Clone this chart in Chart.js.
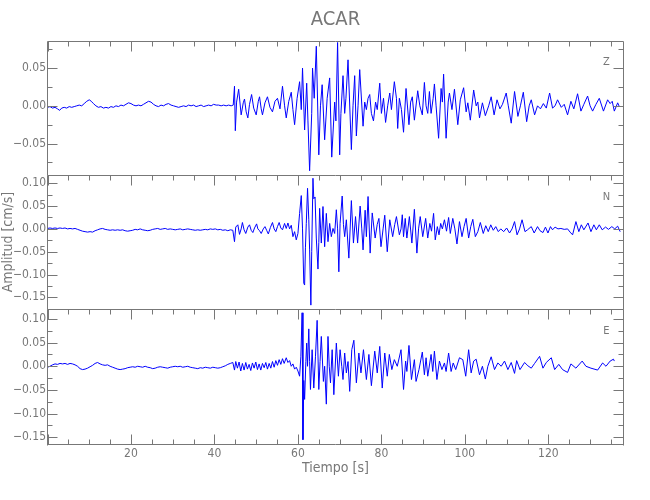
<!DOCTYPE html>
<html>
<head>
<meta charset="utf-8">
<title>ACAR</title>
<script src="https://cdn.jsdelivr.net/npm/chart.js@4/dist/chart.umd.min.js"></script>
<style>
  html, body { margin: 0; padding: 0; background: #fff; }
</style>
</head>
<body>
<canvas id="sismo" width="650" height="500"></canvas>
<script>
// componentes del registro (tiempo [s], amplitud [cm/s])
var componentes = ['Z', 'N', 'E'];

var serieZ = [
  [0,-0.002],[0.6,-0.001],[1.2,-0.003],[1.8,-0.002],[2.4,-0.004],[2.9,-0.006],[3.4,-0.003],[4,-0.002],[4.6,-0.003],[5.2,-0.001],
  [5.8,-0.002],[6.4,-0.001],[7,0.0],[7.6,0.001],[8.2,0.0],[8.8,0.003],[9.4,0.006],[10,0.008],[10.5,0.006],[11,0.003],
  [11.6,0.0],[12.2,-0.002],[12.8,-0.001],[13.4,-0.003],[14,-0.002],[14.6,-0.003],[15.2,-0.001],[15.8,-0.002],[16.4,0.0],[17,-0.001],
  [17.6,0.001],[18.2,0.0],[18.8,0.002],[19.4,0.004],[20,0.003],[20.6,0.001],[21.2,0.0],[21.8,0.001],[22.4,0.0],[23,0.002],
  [23.6,0.004],[24.2,0.006],[24.8,0.005],[25.4,0.002],[26,0.0],[26.6,-0.001],[27.2,0.001],[27.8,0.0],[28.4,0.002],[29,0.003],
  [29.6,0.001],[30.2,0.0],[30.8,-0.001],[31.4,-0.002],[32,-0.001],[32.6,0.0],[33.2,-0.001],[33.8,0.001],[34.4,0.0],[35,0.001],
  [35.6,-0.001],[36.2,0.0],[36.8,0.001],[37.4,-0.001],[38,0.0],[38.6,0.001],[39.2,0.0],[39.8,0.002],[40.4,0.001],[41,0.001],
  [41.6,0.0],[42.2,0.001],[42.8,0.0],[43.4,0.001],[44,0.0],[44.5,0.001],
  [44.8,0.026],[45.0,-0.033],[45.3,0.005],[45.8,0.022],[46.4,-0.012],[46.9,0.004],[47.2,0.009],[47.6,-0.008],[48.0,-0.016],[48.4,0.002],
  [48.9,0.015],[49.4,-0.003],[50.0,-0.012],[50.5,0.006],[50.8,0.012],[51.2,-0.004],[51.5,-0.012],[52.1,0.004],[52.7,0.012],[53.3,-0.002],
  [53.9,-0.008],[54.5,0.006],[55.1,0.010],[55.7,-0.004],[56.3,0.026],[56.8,0.0],[57.2,-0.016],[57.8,0.006],[58.4,0.018],[58.8,-0.005],
  [59.2,-0.025],[59.8,0.01],[60.4,0.032],[60.8,-0.005],[61.1,0.05],[61.6,-0.032],[62.1,0.03],[62.4,-0.02],[62.8,-0.086],[63.3,-0.01],
  [63.5,0.05],[63.9,0.01],[64.4,0.079],[65.0,-0.065],[65.4,0.0],[65.8,0.028],[66.4,-0.045],[67.0,0.01],[67.6,0.037],[68.1,-0.068],
  [68.8,0.005],[69.1,-0.02],[69.5,0.084],[70.0,-0.065],[70.3,-0.01],[70.8,0.04],[71.2,-0.01],[71.5,0.01],[72.0,0.061],[72.8,-0.058],
  [73.2,0.0],[73.6,0.04],[74.0,-0.04],[74.4,0.0],[74.8,0.048],[75.6,-0.027],[76.0,0.005],[76.4,-0.005],[76.8,0.01],[77.2,0.015],
  [77.6,-0.01],[78.1,-0.02],[78.6,0.005],[79.0,-0.005],[79.6,0.03],[80.0,-0.01],[80.5,0.01],[81.0,-0.022],[81.5,0.0],[82.0,0.017],
  [82.4,-0.005],[83.1,0.032],[83.6,0.01],[83.9,-0.03],[84.3,0.01],[84.8,-0.005],[85.3,-0.035],[85.9,0.023],[86.6,-0.025],[87.0,0.005],
  [87.4,0.012],[87.9,-0.019],[88.7,0.02],[89.2,0.0],[89.8,-0.012],[90.3,0.031],[90.7,0.0],[91.1,-0.01],[91.5,0.019],[91.9,-0.01],
  [92.4,0.01],[92.7,0.029],[93.1,0.0],[93.7,-0.043],[94.3,0.023],[94.6,0.005],[94.9,0.042],[95.5,-0.043],[96.0,0.005],[96.3,0.017],
  [96.9,-0.005],[97.5,0.022],[98.3,-0.025],[98.9,0.008],[99.7,0.024],[100.3,-0.008],[100.7,0.004],[101.3,-0.019],[102.1,0.021],[102.7,0.0],
  [103.1,0.005],[103.5,-0.016],[104.2,0.004],[104.9,-0.013],[105.7,0.0],[106.3,0.012],[107.0,-0.012],[107.7,0.008],[108.4,-0.004],[109.0,0.002],
  [109.9,0.017],[110.4,0.0],[111.1,-0.023],[111.9,0.019],[112.7,-0.014],[113.3,0.0],[114.0,0.018],[114.8,-0.021],[115.4,0.0],[115.9,0.008],
  [116.7,-0.012],[117.4,0.0],[118.1,-0.004],[118.8,0.003],[119.5,-0.003],[120.3,0.017],[121.0,-0.003],[121.6,0.0],[122.2,0.008],[123.1,-0.002],
  [123.8,0.002],[124.6,-0.012],[125.4,0.006],[126.1,-0.004],[127.0,0.016],[127.8,-0.007],[128.5,0.002],[129.4,0.013],[130.0,0.0],[130.6,-0.007],
  [131.4,0.002],[132.2,0.01],[133.2,-0.007],[134.2,0.008],[134.8,0.003],[135.3,0.006],[135.8,-0.007],[136.6,0.004],[137.0,-0.001]
];

var serieN = [
  [0,0.001],[0.6,0.002],[1.2,0.001],[1.8,0.002],[2.4,0.001],[3,0.002],[3.6,0.001],[4.2,0.002],[4.8,0.0],[5.4,0.001],
  [6,0.0],[6.6,0.001],[7.2,-0.001],[7.8,-0.003],[8.4,-0.005],[9,-0.006],[9.6,-0.007],[10.2,-0.006],[10.8,-0.007],[11.4,-0.004],
  [12,-0.002],[12.6,0.0],[13.2,0.001],[13.8,-0.001],[14.4,-0.002],[15,-0.003],[15.6,-0.002],[16.2,-0.003],[16.8,-0.002],[17.4,-0.003],
  [18,-0.002],[18.6,-0.004],[19.2,-0.005],[19.8,-0.004],[20.4,-0.003],[21,-0.001],[21.6,-0.002],[22.2,0.0],[22.8,-0.002],[23.4,-0.003],
  [24,-0.004],[24.6,-0.003],[25.2,-0.001],[25.8,0.0],[26.4,0.001],[27,-0.001],[27.6,0.0],[28.2,0.001],[28.8,-0.001],[29.4,0.0],
  [30,-0.001],[30.6,-0.002],[31.2,-0.001],[31.8,0.0],[32.4,-0.002],[33,-0.001],[33.6,0.0],[34.2,-0.001],[34.8,-0.002],[35.4,-0.003],
  [36,-0.002],[36.6,-0.003],[37.2,-0.002],[37.8,-0.001],[38.4,-0.002],[39,0.0],[39.6,-0.001],[40.2,0.0],[40.8,-0.002],[41.4,-0.001],
  [42,-0.003],[42.6,-0.002],[43.2,-0.004],[43.8,-0.002],[44.4,-0.003],
  [44.8,-0.028],[45.1,0.004],[45.6,0.009],[46.0,-0.012],[46.4,0.0],[46.7,0.014],[47.1,-0.002],[47.5,-0.01],[48.0,0.004],[48.4,0.009],
  [48.8,-0.003],[49.2,-0.008],[49.6,0.002],[50.1,0.011],[50.4,0.0],[50.8,-0.004],[51.2,-0.01],[51.7,0.0],[52.1,0.005],[52.5,-0.003],
  [52.9,-0.011],[53.4,0.003],[53.9,0.014],[54.3,0.0],[54.7,-0.006],[55.1,0.005],[55.5,0.014],[55.9,0.002],[56.3,-0.002],[56.8,0.012],
  [57.2,0.001],[57.6,0.013],[58.0,0.0],[58.4,0.008],[58.8,-0.017],[59.2,-0.006],[59.6,-0.024],[60.0,-0.01],[60.4,0.034],[60.8,0.073],
  [61.1,0.0],[61.4,-0.119],[61.6,-0.123],[61.8,-0.04],[62.0,0.012],[62.3,0.089],[62.6,0.02],[62.8,-0.046],[63.1,-0.167],[63.3,-0.05],
  [63.6,0.111],[63.8,0.066],[64.1,0.07],[64.4,-0.02],[64.8,-0.088],[65.0,-0.03],[65.2,0.045],[65.6,-0.031],[66.0,0.049],[66.4,-0.039],
  [66.8,0.034],[67.2,-0.028],[67.6,0.012],[68.0,-0.017],[68.4,0.001],[68.8,-0.01],[69.2,0.042],[69.5,0.0],[69.8,-0.094],[70.1,0.012],
  [70.6,0.072],[70.9,0.01],[71.2,-0.017],[71.6,0.02],[72.2,-0.064],[72.8,0.062],[73.3,-0.031],[73.8,0.027],[74.3,-0.031],[74.9,0.05],
  [75.3,0.0],[75.6,-0.046],[76.1,0.041],[76.4,-0.017],[76.8,0.071],[77.3,-0.053],[77.8,0.035],[78.5,-0.02],[79.0,0.01],[79.4,0.023],
  [79.9,-0.039],[80.4,0.0],[80.8,0.03],[81.4,-0.05],[82.0,0.02],[82.7,-0.017],[83.2,0.01],[83.6,0.027],[84.3,-0.013],[84.7,0.0],
  [85.0,0.031],[85.3,-0.017],[85.7,0.023],[86.1,-0.02],[86.7,0.027],[87.3,-0.031],[87.9,0.043],[88.5,-0.053],[88.9,0.0],[89.3,0.027],
  [89.9,-0.017],[90.6,0.023],[91.1,-0.02],[91.6,0.012],[92.0,-0.005],[92.5,0.034],[92.9,-0.024],[93.4,0.005],[93.8,-0.013],[94.2,0.012],
  [94.6,0.0],[95.1,0.02],[95.6,-0.005],[96.1,0.025],[96.5,-0.01],[97.1,0.023],[97.6,0.0],[98.1,-0.033],[98.7,0.016],[99.3,-0.017],
  [99.8,0.005],[100.3,0.023],[100.9,-0.02],[101.4,0.005],[101.9,0.021],[102.5,-0.017],[103.1,-0.006],[103.7,0.014],[104.4,-0.01],[105.0,0.007],
  [105.6,-0.006],[106.2,0.009],[106.8,-0.003],[107.4,0.005],[108.0,-0.006],[108.6,0.0],[109.3,-0.006],[110.0,0.002],[110.7,-0.009],[111.3,0.0],
  [111.9,0.016],[112.5,-0.013],[113.1,0.0],[113.7,0.02],[114.4,-0.006],[115.0,-0.002],[115.9,0.005],[116.6,-0.009],[117.4,0.005],[118.0,-0.004],
  [118.7,-0.008],[119.3,0.004],[119.9,-0.009],[120.5,0.005],[121.0,-0.002],[121.6,0.004],[122.3,0.0],[123.0,0.001],[123.8,-0.001],[124.6,0.0],
  [125.2,-0.007],[125.8,-0.013],[126.6,0.016],[127.3,-0.006],[127.9,0.009],[128.5,-0.002],[129.5,0.013],[130.2,-0.006],[130.9,0.009],[131.5,-0.002],
  [132.2,0.009],[132.9,-0.002],[133.7,0.004],[134.4,-0.001],[135.2,0.005],[135.9,0.0],[136.6,0.006],[137.2,-0.006]
];

var serieE = [
  [0,-0.002],[0.6,0.0],[1.2,0.003],[1.8,0.005],[2.4,0.004],[3,0.006],[3.6,0.005],[4.2,0.006],[4.8,0.004],[5.4,0.006],
  [6,0.005],[6.6,0.003],[7.2,0.0],[7.8,-0.005],[8.4,-0.007],[9,-0.006],[9.6,-0.004],[10.2,-0.001],[10.8,0.002],[11.4,0.006],
  [12,0.008],[12.6,0.005],[13.2,0.003],[13.8,0.002],[14.4,0.003],[15,0.0],[15.6,-0.002],[16.2,-0.004],[16.8,-0.006],[17.4,-0.007],
  [18,-0.006],[18.6,-0.005],[19.2,-0.003],[19.8,-0.002],[20.4,-0.001],[21,-0.002],[21.6,0.0],[22.2,-0.001],[22.8,-0.002],[23.4,0.0],
  [24,-0.002],[24.6,-0.003],[25.2,-0.005],[25.8,-0.004],[26.4,-0.002],[27,-0.001],[27.6,-0.002],[28.2,-0.003],[28.8,-0.004],[29.4,-0.002],
  [30,-0.001],[30.6,0.0],[31.2,-0.001],[31.8,0.0],[32.4,-0.002],[33,-0.001],[33.6,0.0],[34.2,-0.002],[34.8,-0.003],[35.4,-0.004],
  [36,-0.005],[36.6,-0.003],[37.2,-0.004],[37.8,-0.002],[38.4,-0.003],[39,-0.004],[39.6,-0.002],[40.2,-0.003],[40.8,-0.004],[41.4,-0.003],
  [42,-0.001],[42.6,0.001],[43.2,0.004],[43.8,0.006],[44.4,0.008],
  [44.8,-0.008],[45.1,0.01],[45.5,-0.004],[45.9,0.009],[46.3,-0.01],[46.7,0.006],[47.1,-0.008],[47.5,0.008],[47.9,-0.006],[48.3,0.004],
  [48.7,-0.009],[49.1,0.007],[49.5,-0.004],[49.9,0.009],[50.3,-0.007],[50.7,0.005],[51.1,-0.008],[51.5,0.006],[51.9,-0.003],[52.3,0.008],
  [52.7,-0.006],[53.1,0.006],[53.5,-0.004],[53.9,0.01],[54.3,-0.002],[54.7,0.012],[55.1,0.002],[55.5,0.014],[55.9,0.004],[56.3,0.016],
  [56.7,0.006],[57.2,0.018],[57.6,0.008],[58.0,0.012],[58.4,0.0],[58.8,0.005],[59.2,-0.006],[59.6,-0.002],[60.0,-0.01],[60.4,-0.021],
  [60.7,0.02],[61.0,0.113],[61.2,-0.155],[61.4,-0.03],[61.6,-0.07],[61.9,0.01],[62.1,0.049],[62.3,0.0],[62.6,0.079],[62.8,0.01],
  [63.0,-0.049],[63.4,0.035],[63.8,-0.046],[64.2,0.02],[64.6,0.097],[65.0,-0.049],[65.3,0.01],[65.6,0.063],[66.1,-0.032],[66.4,0.0],
  [66.8,-0.08],[67.2,0.063],[67.5,0.0],[67.8,-0.035],[68.2,0.035],[68.6,-0.06],[69.2,0.049],[69.7,-0.021],[70.1,0.035],[70.5,0.0],
  [70.8,-0.028],[71.2,0.028],[71.6,-0.014],[72.0,0.01],[72.4,-0.053],[72.9,0.035],[73.4,0.055],[74.0,-0.035],[74.6,0.028],[75.1,-0.014],
  [75.7,0.035],[76.4,-0.028],[77.0,0.025],[77.6,-0.041],[78.4,0.032],[79.0,-0.014],[79.6,0.042],[80.2,-0.046],[80.8,0.028],[81.4,-0.021],
  [81.9,0.025],[82.5,-0.007],[83.1,0.014],[83.8,0.0],[84.7,0.035],[85.3,-0.049],[85.8,0.011],[86.1,-0.011],[86.6,0.044],[87.2,-0.028],
  [87.9,0.014],[88.3,-0.032],[89.0,-0.007],[89.8,0.03],[90.3,-0.018],[90.7,0.018],[91.1,-0.021],[91.9,0.025],[92.3,-0.011],[92.7,0.032],
  [93.3,-0.028],[93.9,0.011],[94.5,-0.007],[95.1,0.007],[95.5,-0.011],[96.1,0.028],[96.7,-0.011],[97.2,0.007],[97.8,-0.007],[98.7,0.018],
  [99.5,0.014],[100.2,-0.021],[100.9,0.035],[101.5,-0.014],[102.1,0.011],[102.7,0.015],[103.5,-0.018],[104.2,0.0],[104.9,-0.027],[105.5,0.0],
  [106.3,0.02],[107.1,-0.007],[107.9,0.007],[108.7,0.0],[109.5,0.011],[110.3,-0.007],[111.1,0.008],[111.9,-0.015],[112.4,0.012],[113.2,-0.007],
  [114.3,0.008],[115.1,0.001],[115.9,-0.004],[116.7,0.006],[117.9,0.021],[118.7,-0.004],[119.5,0.008],[120.7,0.018],[121.5,-0.007],[122.5,0.004],
  [123.4,-0.007],[124.6,-0.013],[125.4,0.005],[126.6,-0.004],[128.1,0.011],[129.0,0.0],[130.2,-0.004],[131.8,-0.008],[133.0,0.007],[133.8,0.0],
  [134.8,0.011],[135.6,0.015],[135.8,0.011]
];

// limites de cada panel (cm/s) y del eje de tiempo (s)
var rangoZ = [-0.0915, 0.0866];
var rangoN = [-0.176, 0.1184];
var rangoE = [-0.1663, 0.1205];
var rangoT = [0, 138];

var fuente = "'Liberation Sans Narrow', 'DejaVu Sans Condensed', 'Liberation Sans', sans-serif";
var gris = '#777777';

function puntos(lista) {
  return lista.map(function (p) { return {x: p[0], y: p[1]}; });
}

function etiquetaY(v) {
  if (Math.abs(Math.round(v / 0.025)) % 2 === 1) return '';
  if (Math.abs(v) < 1e-9) return '0.00';
  return (v < 0 ? '\u2212' : '') + Math.abs(v).toFixed(2);
}

function ejeY(rango, peso, orden, titulo) {
  return {
    type: 'linear',
    position: 'left',
    stack: 'comp',
    stackWeight: peso,
    weight: orden,
    min: rango[0],
    max: rango[1],
    grid: {display: false, drawTicks: false},
    border: {display: false},
    ticks: {
      stepSize: 0.025, maxTicksLimit: 100, autoSkip: false, includeBounds: false,
      padding: 1.5, color: gris, font: {family: fuente, size: 12},
      callback: etiquetaY
    },
    title: {display: !!titulo, text: titulo || '', color: gris, font: {family: fuente, size: 14}, padding: 0},
    afterFit: function (s) { s.width = 47.5; }
  };
}

// marco estilo IDL: ejes en gris con marcas hacia adentro
var marco = {
  id: 'marco',
  afterDraw: function (chart) {
    var ctx = chart.ctx;
    var a = chart.chartArea;
    var xs = chart.scales.x;
    var L = Math.round(a.left) - 0.5, R = Math.round(a.right) - 0.5;
    ctx.save();
    ctx.strokeStyle = gris;
    ctx.lineWidth = 1;
    ['y1', 'y2', 'y3'].forEach(function (id, k) {
      var s = chart.scales[id];
      var T = Math.round(s.top) + 0.5, B = Math.round(s.bottom) - 0.5;
      ctx.beginPath();
      ctx.moveTo(L, T); ctx.lineTo(R, T);
      ctx.moveTo(L, T); ctx.lineTo(L, B + 1);
      ctx.moveTo(R, T); ctx.lineTo(R, B + 1);
      if (k === 2) { ctx.moveTo(L, B); ctx.lineTo(R, B); }
      s.ticks.forEach(function (t) {
        var py = Math.round(s.getPixelForValue(t.value)) + 0.5;
        var len = t.label ? 10 : 5;
        ctx.moveTo(L, py); ctx.lineTo(L + len, py);
        ctx.moveTo(R, py); ctx.lineTo(R - len, py);
      });
      xs.ticks.forEach(function (t) {
        var px = Math.round(xs.getPixelForValue(t.value)) + 0.5;
        var len = t.value % 20 === 0 ? 10 : 5;
        ctx.moveTo(px, T); ctx.lineTo(px, T + len);
        if (k === 2) { ctx.moveTo(px, B); ctx.lineTo(px, B - len); }
      });
      ctx.stroke();
      ctx.fillStyle = gris;
      ctx.font = '11px ' + fuente;
      ctx.textAlign = 'center';
      ctx.textBaseline = 'middle';
      ctx.fillText(componentes[k], a.right - 17, s.top + 22);
    });
    ctx.restore();
  }
};

function traza(serie, eje) {
  return {
    data: puntos(serie),
    yAxisID: eje,
    borderColor: '#0000ff',
    borderWidth: 1,
    pointRadius: 0,
    tension: 0,
    fill: false
  };
}

var ctx = document.getElementById('sismo');
var grafico = new Chart(ctx, {
  type: 'line',
  data: {
    datasets: [traza(serieZ, 'y1'), traza(serieN, 'y2'), traza(serieE, 'y3')]
  },
  options: {
    responsive: false,
    animation: false,
    devicePixelRatio: 1,
    layout: {padding: {left: 0, right: 26.5, top: 0, bottom: 0}},
    plugins: {
      legend: {display: false},
      tooltip: {enabled: false},
      title: {
        display: true, text: 'ACAR', color: gris, fullSize: false,
        font: {family: fuente, size: 20, weight: 'normal'},
        padding: {top: 8, bottom: 8.5}
      }
    },
    scales: {
      x: {
        type: 'linear',
        position: 'bottom',
        min: rangoT[0],
        max: rangoT[1],
        grid: {display: false, drawTicks: false},
        border: {display: false},
        ticks: {
          stepSize: 5, maxTicksLimit: 100, autoSkip: false, includeBounds: false,
          maxRotation: 0, padding: 2, color: gris, font: {family: fuente, size: 12},
          callback: function (v) { return (v > 0 && v % 20 === 0) ? String(v) : ''; }
        },
        title: {display: true, text: 'Tiempo [s]', color: gris, font: {family: fuente, size: 14}, padding: {top: 0, bottom: 23}},
        afterFit: function (s) { s.height = 55; }
      },
      y1: ejeY(rangoZ, 134.3, 3),
      y2: ejeY(rangoN, 134.3, 2, 'Amplitud [cm/s]'),
      y3: ejeY(rangoE, 135.7, 1)
    }
  },
  plugins: [marco]
});
</script>
</body>
</html>
